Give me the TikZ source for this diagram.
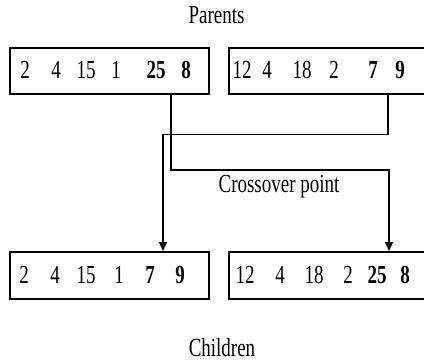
\documentclass[tikz,border=0pt]{standalone}
\usepackage{graphicx}
\usepackage{fontspec}
\setmainfont{Liberation Serif}
\usetikzlibrary{arrows.meta}
\newcommand\sqz[1]{\scalebox{0.73}[1]{#1}}
\tikzset{
  box/.style={draw, line width=1.5pt, inner sep=0pt, anchor=north west},
  conn/.style={draw, line width=1.1pt},
  arr/.style={-{Triangle[length=9pt,width=8pt]}},
  txt/.style={inner sep=0pt, anchor=base, font=\fontsize{26}{30}\selectfont},
  num/.style={txt},
  bnum/.style={txt, font=\fontsize{26}{30}\selectfont\bfseries},
}
\begin{document}
\begin{tikzpicture}[x=1pt, y=-1pt]
\useasboundingbox (0,0) rectangle (424,362);
\clip (0,0) rectangle (424,362);
\fill[white] (0,0) rectangle (424,362);

% boxes
\node[box, minimum width=199pt, minimum height=46pt] (pl) at (9,47) {};
\node[box, minimum width=220pt, minimum height=46pt] (pr) at (228,47) {};
\node[box, minimum width=199pt, minimum height=47pt] (cl) at (9,251) {};
\node[box, minimum width=220pt, minimum height=47pt] (cr) at (228,251) {};

% labels
\node[txt] (tp) at (216.5,23) {\sqz{Parents}};
\node[txt] (tx) at (279,192) {\sqz{Crossover point}};
\node[txt] (tc) at (222,356) {\sqz{Children}};

% parent left
\node[num]  (p1) at (25,78)  {\sqz{2}};
\node[num]  (p2) at (56,78)  {\sqz{4}};
\node[num]  (p3) at (86,78)  {\sqz{15}};
\node[num]  (p4) at (116,78) {\sqz{1}};
\node[bnum] (p5) at (156,78) {\sqz{25}};
\node[bnum] (p6) at (186,78) {\sqz{8}};
% parent right
\node[num]  (q1) at (242,78) {\sqz{12}};
\node[num]  (q2) at (267,78) {\sqz{4}};
\node[num]  (q3) at (302,78) {\sqz{18}};
\node[num]  (q4) at (334,78) {\sqz{2}};
\node[bnum] (q5) at (373,78) {\sqz{7}};
\node[bnum] (q6) at (400,78) {\sqz{9}};
% child left
\node[num]  (c1) at (24,283)  {\sqz{2}};
\node[num]  (c2) at (55,283)  {\sqz{4}};
\node[num]  (c3) at (86,283)  {\sqz{15}};
\node[num]  (c4) at (119,283) {\sqz{1}};
\node[bnum] (c5) at (150,283) {\sqz{7}};
\node[bnum] (c6) at (180,283) {\sqz{9}};
% child right
\node[num]  (d1) at (245,283) {\sqz{12}};
\node[num]  (d2) at (280,283) {\sqz{4}};
\node[num]  (d3) at (314,283) {\sqz{18}};
\node[num]  (d4) at (348,283) {\sqz{2}};
\node[bnum] (d5) at (377,283) {\sqz{25}};
\node[bnum] (d6) at (405,283) {\sqz{8}};

% connectors
\coordinate (ka) at (171,170);
\coordinate (kb) at (389,170);
\draw[conn, arr] (ka |- pl.south) -- (ka) -- (kb) -- (kb |- cr.north);
\coordinate (kc) at (388,134.5);
\coordinate (kd) at (163,134.5);
\draw[conn, arr] (kc |- pr.south) -- (kc) -- (kd) -- (kd |- cl.north);
\end{tikzpicture}
\end{document}
